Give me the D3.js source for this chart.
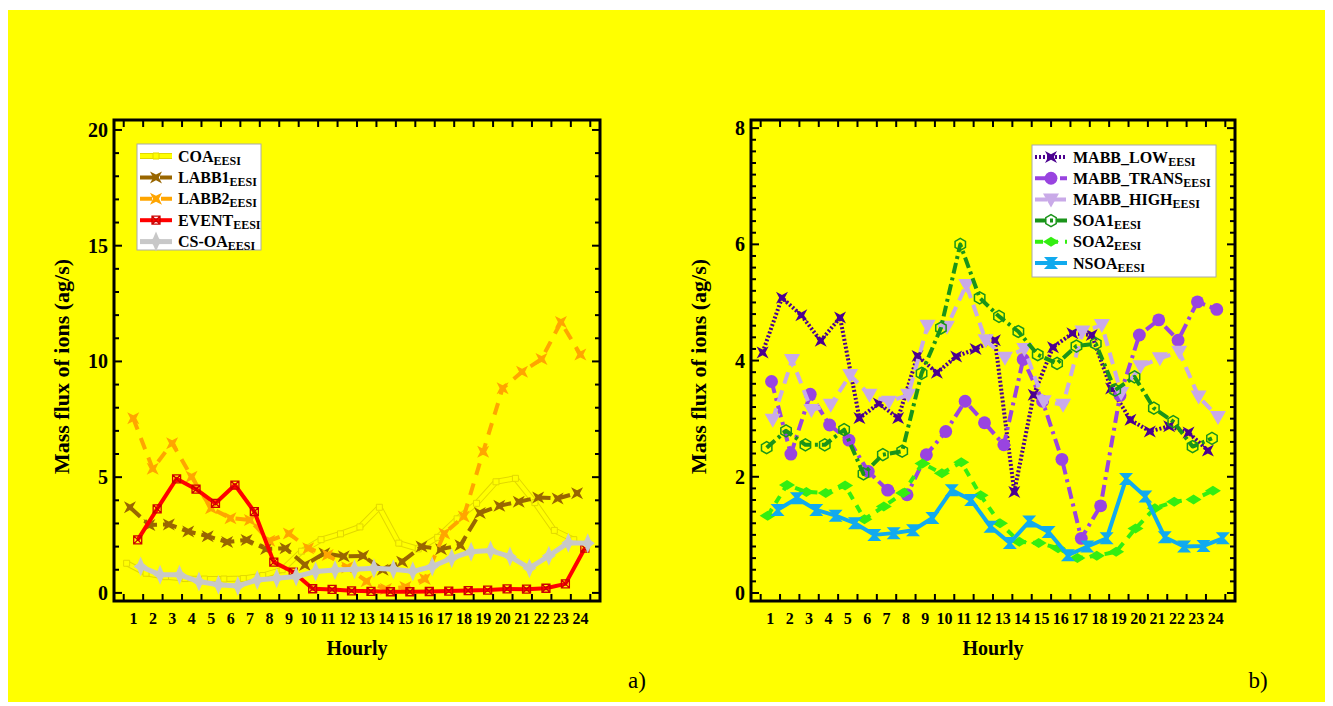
<!DOCTYPE html>
<html>
<head>
<meta charset="utf-8">
<script src="https://cdn.jsdelivr.net/npm/d3@7"></script>
<style>
  body { margin: 0; background: #fff; }
  svg { display: block; }
  text { font-family: "Liberation Serif", "Times New Roman", serif; }
</style>
</head>
<body>
<div id="container"></div>
<script>
// hourly mass flux of ions, two panels
const hours = [1, 2, 3, 4, 5, 6, 7, 8, 9, 10, 11, 12, 13, 14, 15, 16, 17, 18, 19, 20, 21, 22, 23, 24]

// panel a)
const coa = [1.28, 0.85, 0.7, 0.62, 0.6, 0.6, 0.62, 0.75, 1.0, 1.8, 2.3, 2.55, 2.85, 3.7, 2.15, 1.9, 2.4, 3.2, 3.87, 4.8, 4.95, 3.9, 2.7, 2.3]
const labb1 = [3.7, 2.93, 2.96, 2.65, 2.45, 2.2, 2.29, 1.9, 1.93, 1.21, 1.71, 1.58, 1.6, 1.0, 1.35, 2.0, 1.89, 2.06, 3.45, 3.76, 3.94, 4.12, 4.08, 4.31]
const labb2 = [7.54, 5.36, 6.47, 5.02, 3.66, 3.23, 3.15, 2.25, 2.57, 1.93, 1.64, 1.1, 0.5, 0.17, 0.26, 0.6, 2.57, 3.3, 6.1, 8.84, 9.55, 10.1, 11.7, 10.3]
const event = [2.29, 3.63, 4.93, 4.48, 3.87, 4.66, 3.51, 1.33, 0.9, 0.18, 0.15, 0.09, 0.07, 0.05, 0.05, 0.06, 0.08, 0.1, 0.12, 0.17, 0.16, 0.2, 0.39, 1.93]
const csoa = [1.14, 0.78, 0.78, 0.49, 0.35, 0.3, 0.56, 0.63, 0.71, 0.92, 0.99, 1.02, 1.07, 1.02, 0.93, 1.14, 1.5, 1.78, 1.83, 1.57, 1.07, 1.6, 2.17, 2.15]

// panel b)
const mabbLow = [4.14, 5.08, 4.78, 4.34, 4.74, 3.01, 3.26, 3.01, 4.08, 3.79, 4.07, 4.2, 4.35, 1.74, 3.41, 4.23, 4.47, 4.44, 3.52, 2.98, 2.78, 2.87, 2.76, 2.45]
const mabbTrans = [3.64, 2.39, 3.42, 2.89, 2.63, 2.09, 1.77, 1.69, 2.38, 2.78, 3.3, 2.93, 2.55, 4.02, 3.3, 2.3, 0.94, 1.5, 3.4, 4.44, 4.7, 4.35, 5.01, 4.88]
const mabbHigh = [2.98, 4.01, 3.15, 3.24, 3.75, 3.41, 3.29, 3.41, 4.6, 4.58, 5.3, 4.35, 4.05, 4.2, 3.3, 3.24, 4.5, 4.61, 3.44, 3.9, 4.04, 4.15, 3.38, 3.03]
const soa1 = [2.5, 2.79, 2.55, 2.55, 2.81, 2.05, 2.38, 2.44, 3.78, 4.56, 6.0, 5.08, 4.76, 4.5, 4.1, 3.95, 4.25, 4.29, 3.49, 3.72, 3.18, 2.95, 2.52, 2.66]
const soa2 = [1.33, 1.86, 1.74, 1.72, 1.85, 1.27, 1.49, 1.72, 2.23, 2.06, 2.25, 1.68, 1.2, 0.88, 0.86, 0.77, 0.6, 0.64, 0.71, 1.11, 1.46, 1.57, 1.61, 1.76]
const nsoa = [1.43, 1.63, 1.43, 1.33, 1.2, 1.0, 1.03, 1.08, 1.29, 1.77, 1.6, 1.14, 0.86, 1.23, 1.05, 0.65, 0.8, 0.94, 1.96, 1.66, 0.96, 0.8, 0.81, 0.94]

const W = 1333, H = 706, plotTop = 120, plotBottom = 601
const svg = d3.select("#container").append("svg").attr("width", W).attr("height", H)
svg.append("rect").attr("x", 8).attr("y", 10).attr("width", 1317).attr("height", 692).attr("fill", "#ffff00")

function markerPath(type) {
    if (type === "cross") return "M-6,-6L0,-2.8L6,-6L2.8,0L6,6L0,2.8L-6,6L-2.8,0Z"
    if (type === "xcross") return "M-6,-6L0,-3L6,-6L3,0L6,6L0,3L-6,6L-3,0Z"
    if (type === "star") return "M0,-10L3,-3L7,0L3,3L0,10L-3,3L-7,0L-3,-3Z"
    if (type === "boxglass") return "M-4,-4H4V4H-4ZM-4,-4L4,4M4,-4L-4,4"
    if (type === "square") return "M-3,-3H3V3H-3Z"
    if (type === "circle") return d3.symbol(d3.symbolCircle, 130)()
    if (type === "tri") return "M-8,-6H8L0,8Z"
    if (type === "hex") return d3.range(6).map((i, k) => (k ? "L" : "M") + (6 * Math.cos(Math.PI / 3 * i + Math.PI / 6)).toFixed(2) + "," + (6 * Math.sin(Math.PI / 3 * i + Math.PI / 6)).toFixed(2)).join("") + "Z"
    if (type === "diamond") return "M-8,0L0,-5L8,0L0,5Z"
    if (type === "bowtie") return "M-7,-6H7L1.5,0L7,6H-7L-1.5,0Z"
}

const panels = [
    {
        left: 114, right: 600, yDomain: [-0.35, 20.43], yMax: 20, major: 5, minor: 1, tag: "a)", tagX: 637,
        legend: {x: 137, y: 144, w: 124, h: 106, row: 21.4},
        series: [
            {name: "COA", values: coa, color: "#ffff00", edge: "#e2d800", width: 4, dash: null, marker: "square", dx: -0.35},
            {name: "LABB1", values: labb1, color: "#996600", width: 4, dash: "14,6", marker: "cross", dx: -0.18},
            {name: "LABB2", values: labb2, color: "#ffa500", width: 4, dash: "12,9", marker: "xcross", dx: -0.01},
            {name: "EVENT", values: event, color: "#ff0000", width: 4, dash: null, marker: "boxglass", stroke: "#cc0000", dx: 0.22},
            {name: "CS-OA", values: csoa, color: "#c8c8c8", width: 5, dash: null, marker: "star", dx: 0.37}
        ]
    },
    {
        left: 751, right: 1235, yDomain: [-0.138, 8.14], yMax: 8, major: 2, minor: 0.2, tag: "b)", tagX: 1258,
        legend: {x: 1032, y: 145, w: 184, h: 132, row: 21.2},
        series: [
            {name: "MABB_LOW", values: mabbLow, color: "#4b0090", width: 4, dash: "2,2", marker: "cross", dx: -0.4},
            {name: "MABB_TRANS", values: mabbTrans, color: "#9944e0", width: 4, dash: "12,5,3,5", marker: "circle", dx: 0.06},
            {name: "MABB_HIGH", values: mabbHigh, color: "#c9aae8", width: 4, dash: "12,7", marker: "tri", dx: 0.12},
            {name: "SOA1", values: soa1, color: "#1a941a", width: 4, dash: "11,4,3,4", marker: "hex", hollow: true, dx: -0.19},
            {name: "SOA2", values: soa2, color: "#33ee11", width: 4, dash: "8,7", marker: "diamond", dx: -0.14},
            {name: "NSOA", values: nsoa, color: "#11aaee", width: 4, dash: null, marker: "bowtie", dx: 0.37}
        ]
    }
]

function drawMarker(g, s, px, py) {
    const m = g.append("path").attr("d", markerPath(s.marker)).attr("transform", `translate(${px},${py})`)
    if (s.marker === "boxglass") m.attr("fill", "none").attr("stroke", s.stroke).attr("stroke-width", 1.3)
    else if (s.hollow) m.attr("fill", "none").attr("stroke", s.color).attr("stroke-width", 1.5)
    else if (s.edge) m.attr("fill", s.color).attr("stroke", s.edge).attr("stroke-width", 1)
    else m.attr("fill", s.color)
}

panels.forEach(p => {
    const x = d3.scaleLinear().domain([0, 25]).range([p.left, p.right])
    const y = d3.scaleLinear().domain(p.yDomain).range([plotBottom, plotTop])
    const g = svg.append("g")

    // series
    p.series.forEach(s => {
        const pts = hours.map((h, i) => ({h, v: s.values[i]}))
        const line = d3.line().x(d => x(d.h + s.dx)).y(d => y(d.v))
        if (s.edge) g.append("path").attr("d", line(pts)).attr("fill", "none").attr("stroke", s.edge).attr("stroke-width", s.width + 2).attr("stroke-linejoin", "round")
        g.append("path").attr("d", line(pts)).attr("fill", "none").attr("stroke", s.color)
            .attr("stroke-width", s.width).attr("stroke-dasharray", s.dash).attr("stroke-linejoin", "round")
        pts.forEach(d => drawMarker(g, s, x(d.h + s.dx), y(d.v)))
    })

    // frame and ticks
    const ax = svg.append("g").attr("stroke", "#000")
    ax.append("rect").attr("x", p.left).attr("y", plotTop).attr("width", p.right - p.left).attr("height", plotBottom - plotTop)
        .attr("fill", "none").attr("stroke-width", 3)
    const yTicks = d3.range(0, Math.round(p.yMax / p.minor) + 1).map(i => +(i * p.minor).toFixed(2))
    yTicks.forEach(v => {
        const len = Math.abs(v / p.major - Math.round(v / p.major)) < 1e-6 ? 8 : 5
        ax.append("line").attr("x1", p.left).attr("x2", p.left + len).attr("y1", y(v)).attr("y2", y(v)).attr("stroke-width", 2)
        ax.append("line").attr("x1", p.right).attr("x2", p.right - len).attr("y1", y(v)).attr("y2", y(v)).attr("stroke-width", 2)
    })
    d3.range(0, 25).forEach(k => {
        ax.append("line").attr("x1", x(k + 0.5)).attr("x2", x(k + 0.5)).attr("y1", plotBottom).attr("y2", plotBottom - 7).attr("stroke-width", 2)
        ax.append("line").attr("x1", x(k + 0.5)).attr("x2", x(k + 0.5)).attr("y1", plotTop).attr("y2", plotTop + 7).attr("stroke-width", 2)
    })

    // tick labels
    d3.range(0, p.yMax + 1, p.major).forEach(v => {
        svg.append("text").attr("x", p.left - 6).attr("y", y(v)).attr("dy", "0.35em").attr("text-anchor", "end")
            .attr("font-size", 20).attr("font-weight", "bold").text(v)
    })
    hours.forEach(h => {
        svg.append("text").attr("x", x(h)).attr("y", 624).attr("text-anchor", "middle")
            .attr("font-size", 16).attr("font-weight", "bold").text(h)
    })
    svg.append("text").attr("x", (p.left + p.right) / 2).attr("y", 655).attr("text-anchor", "middle")
        .attr("font-size", 20).attr("font-weight", "bold").text("Hourly")
    svg.append("text").attr("transform", `translate(${p.left - 45},${(plotTop + plotBottom) / 2 + 6}) rotate(-90)`)
        .attr("text-anchor", "middle").attr("font-size", 22).attr("font-weight", "bold").text("Mass flux of ions (ag/s)")
    svg.append("text").attr("x", p.tagX).attr("y", 688).attr("text-anchor", "middle").attr("font-size", 23).text(p.tag)

    // legend
    const lg = svg.append("g")
    const L = p.legend
    lg.append("rect").attr("x", L.x).attr("y", L.y).attr("width", L.w).attr("height", L.h)
        .attr("fill", "#fff").attr("stroke", "#aaa").attr("stroke-width", 1)
    p.series.forEach((s, i) => {
        const cy = L.y + 12 + i * L.row
        const x0 = L.x + 3, x1 = L.x + 35
        if (s.edge) lg.append("line").attr("x1", x0).attr("x2", x1).attr("y1", cy).attr("y2", cy).attr("stroke", s.edge).attr("stroke-width", s.width + 2)
        lg.append("line").attr("x1", x0).attr("x2", x1).attr("y1", cy).attr("y2", cy)
            .attr("stroke", s.color).attr("stroke-width", s.width).attr("stroke-dasharray", s.dash)
        drawMarker(lg, s, (x0 + x1) / 2, cy)
        const t = lg.append("text").attr("x", x1 + 6).attr("y", cy + 5.5).attr("font-size", 16).attr("font-weight", "bold").text(s.name)
        t.append("tspan").attr("dy", 3).attr("font-size", 12).text("EESI")
    })
})
</script>
</body>
</html>
